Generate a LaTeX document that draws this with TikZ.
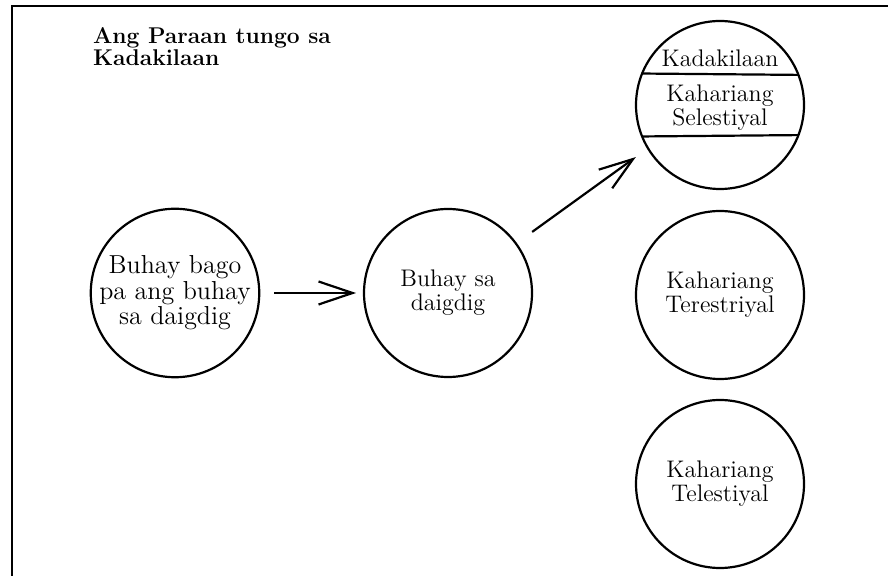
\documentclass[tikz,border=0pt]{standalone}
\usetikzlibrary{arrows.meta}
\begin{document}
\begin{tikzpicture}[x=0.5pt,y=-0.5pt,line width=1.1pt]
\tikzstyle{every node}=[align=center,inner sep=0pt,outer sep=0pt,font=\fontsize{12}{12}\selectfont]
\tikzstyle{world}=[draw,circle,minimum size=84pt]
\tikzstyle{go}=[-{Straight Barb[length=17pt,width=11.5pt]}]
\useasboundingbox (0,0) rectangle (888,576);
\draw (12,576) -- (12,6) -- (888,6);
\node[anchor=north west,align=left,font=\bfseries\fontsize{11.4}{11}\selectfont](title) at (93,28) {Ang Paraan tungo sa\\Kadakilaan};
\node[world,font=\fontsize{13}{11.5}\selectfont](bago) at (175,293) {Buhay bago\\pa ang buhay\\sa daigdig};
\node[world](lupa) at (448,293) {Buhay sa\\daigdig};
\node[world](sel) at (720,105) {};
\node[world](ter) at (720,295) {Kahariang\\Terestriyal};
\node[world](tel) at (720,484) {Kahariang\\Telestiyal};
\draw (sel.158.8) -- (sel.21.2);
\draw (sel.-158.1) -- (sel.-21.9);
\node[anchor=base](kad) at (720,67) {Kadakilaan};
\node(selt) at (720,108) {Kahariang\\Selestiyal};
\draw[go,shorten <=7.5pt,shorten >=4pt] (bago) -- (lupa);
\draw[go,shorten <=10pt,shorten >=7.5pt] (lupa.36) -- (sel.211);
\end{tikzpicture}
\end{document}
